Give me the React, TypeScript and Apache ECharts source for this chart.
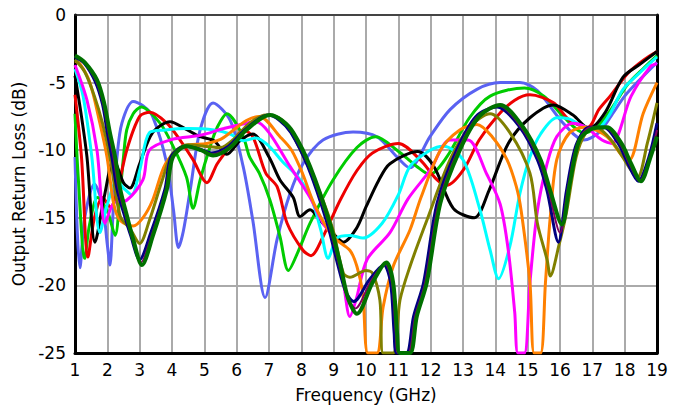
import React, { useEffect, useRef } from "react";
import * as echarts from "echarts";

const xTicks = [1, 19];
const yTicks = [-25, 0];

const blueF = [1.0, 1.07, 1.15, 1.3, 1.6, 1.85, 2.0, 2.08, 2.18, 2.3, 2.45, 2.8, 3.1, 3.4, 3.84, 4.05, 4.2, 4.35, 4.56, 4.87, 5.27, 5.8, 6.2, 6.5, 6.88, 7.25, 7.65, 8.05, 8.67, 9.6, 10.34, 10.96, 11.35, 11.98, 12.6, 13.43, 14.15, 14.76, 15.3, 16.1, 16.74, 17.2, 17.6, 18.0, 18.5, 19.0];
const blueDb = [-10.5, -16, -18.7, -15, -12.5, -14, -17, -18.5, -14.5, -10.5, -8, -6.4, -6.7, -7.5, -11, -14.5, -17.2, -16, -13, -8.5, -6.5, -7.8, -11.2, -15.2, -20.9, -16.6, -13.2, -11, -9.25, -8.65, -9.0, -10.5, -11.3, -9.0, -7.0, -5.5, -5.0, -5.0, -5.6, -8.0, -9.25, -8.7, -7.4, -6.0, -4.7, -3.5];

const greenF = [1.0, 1.1, 1.3, 1.45, 1.7, 2.0, 2.24, 2.4, 2.5, 2.6, 2.8, 3.05, 3.63, 4.03, 4.45, 4.65, 4.87, 5.17, 5.4, 5.7, 6.2, 6.4, 6.7, 7.03, 7.34, 7.6, 7.9, 8.27, 8.98, 9.72, 10.3, 10.96, 11.57, 11.97, 12.5, 13.2, 13.84, 14.9, 15.5, 16.1, 16.74, 17.1, 17.6, 18.1, 18.6, 19.0];
const greenDb = [-7.3, -12, -18, -15.5, -13.5, -14.5, -16.3, -13, -10.5, -8.5, -7.3, -6.8, -8.0, -9.7, -12, -14.3, -12.2, -9.8, -8.3, -7.3, -9.0, -10.5, -11.7, -13.7, -16.4, -18.9, -17.5, -15.4, -12.2, -9.8, -9.0, -10, -11.2, -11.8, -10.5, -7.6, -6.0, -5.4, -6.0, -7.5, -8.7, -8.4, -6.9, -5.1, -3.9, -3.0];

const redF = [1.0, 1.2, 1.4, 1.6, 1.85, 2.1, 2.3, 2.6, 3.0, 3.32, 3.84, 4.25, 4.65, 5.08, 5.4, 5.8, 6.2, 6.5, 6.9, 7.25, 7.56, 8.05, 8.3, 8.67, 9.2, 9.72, 10.2, 11.0, 11.67, 12.2, 12.5, 13.0, 13.5, 14.05, 14.6, 15.07, 15.8, 16.3, 16.86, 17.2, 17.55, 18.1, 18.6, 19.0];
const redDb = [-5.9, -10.5, -17.9, -15, -13.5, -14.2, -13.1, -10, -7.5, -7.2, -8.0, -9.25, -10.7, -12.4, -11, -9.7, -8.5, -9.0, -11.7, -12.7, -15.4, -17.4, -17.8, -16.4, -13.7, -11.5, -10.2, -9.5, -10.7, -12.2, -12.6, -11.5, -9.25, -7.5, -6.3, -5.9, -6.5, -7.8, -8.3, -7.0, -6.0, -4.3, -3.3, -2.7];

const blackF = [1.0, 1.2, 1.37, 1.62, 1.9, 2.2, 2.5, 2.7, 3.0, 3.4, 3.94, 4.4, 4.87, 5.3, 5.7, 6.1, 6.5, 7.0, 7.34, 7.75, 7.96, 8.27, 8.58, 9.0, 9.3, 9.7, 10.0, 10.4, 10.74, 11.6, 12.1, 12.7, 13.35, 13.8, 14.4, 15.07, 15.8, 16.4, 16.9, 17.4, 17.95, 18.5, 19.0];
const blackDb = [-4.5, -7.5, -10.5, -16.8, -13.5, -10.7, -12.4, -12.8, -11, -8.7, -7.9, -8.4, -9.0, -9.3, -10.3, -9.3, -8.8, -10.5, -12.2, -13.5, -14.9, -14.4, -15.2, -16.2, -16.8, -15.8, -14.2, -12.2, -11, -10.1, -11.2, -14.3, -15.0, -13.0, -9.5, -7.6, -6.65, -7.4, -8.4, -7.2, -4.6, -3.6, -2.7];

const cyanF = [1.0, 1.25, 1.52, 1.77, 2.0, 2.3, 2.5, 2.75, 3.0, 3.3, 3.8, 4.5, 5.3, 5.8, 6.2, 6.6, 7.0, 7.4, 7.9, 8.3, 8.6, 8.83, 9.1, 9.5, 9.9, 10.5, 11.0, 11.36, 11.98, 12.4, 13.0, 13.5, 13.84, 14.1, 14.45, 14.76, 15.07, 15.4, 15.9, 16.3, 16.6, 17.1, 17.5, 17.95, 18.5, 19.0];
const cyanDb = [-4.0, -6.0, -10.5, -16.1, -14, -12.3, -12.8, -13.3, -11.5, -8.7, -8.5, -8.4, -8.5, -8.8, -9.3, -9.1, -9.7, -10.8, -12.0, -13.5, -15.9, -18.0, -16.5, -16.3, -16.5, -15.4, -13.3, -11.2, -10.0, -9.7, -10.7, -14.2, -17.4, -19.5, -17.1, -13.2, -10.5, -8.8, -7.6, -7.7, -8.1, -8.5, -7.5, -5.5, -4.2, -3.1];

const magentaF = [1.0, 1.37, 1.68, 1.93, 2.2, 2.6, 3.1, 3.3, 4.0, 4.87, 5.6, 6.3, 6.6, 7.0, 7.65, 8.27, 8.67, 9.0, 9.3, 9.5, 9.7, 10.03, 10.74, 11.3, 11.98, 12.6, 13.15, 13.74, 14.15, 14.4, 14.6, 14.7, 14.9, 15.07, 15.3, 15.6, 15.9, 16.4, 16.8, 17.3, 17.6, 18.2, 18.8, 19.0];
const magentaDb = [-3.7, -6.3, -10, -15.4, -13.9, -13.7, -12.2, -10, -9.2, -8.9, -8.4, -8.0, -7.9, -8.7, -11.2, -13.5, -15.4, -16.5, -19.8, -22.3, -21, -18.1, -16.1, -13.6, -11.5, -9.25, -9.25, -11.8, -14, -17.4, -22, -25, -25, -19.8, -14.5, -11, -9.0, -8.0, -8.3, -9.25, -9.5, -6.0, -3.8, -3.6];

const orangeF = [1.0, 1.15, 1.46, 1.77, 1.99, 2.2, 2.4, 2.8, 3.1, 3.4, 3.8, 4.35, 5.08, 5.5, 5.8, 6.3, 6.7, 7.34, 7.7, 8.05, 8.4, 8.98, 9.5, 9.72, 9.9, 10.06, 10.34, 10.53, 10.84, 11.36, 11.7, 12.3, 12.9, 13.43, 13.9, 14.36, 14.65, 14.8, 15.07, 15.2, 15.4, 15.55, 15.7, 15.9, 16.3, 16.8, 17.45, 17.95, 18.15, 18.57, 19.0];
const orangeDb = [-3.4, -3.6, -5.0, -8.0, -10.5, -14, -15.2, -15.6, -15.0, -13.7, -11, -9.7, -9.5, -9.2, -8.7, -7.8, -7.5, -9.0, -10, -11.8, -14, -16.4, -17.4, -18.6, -20.6, -25, -25, -21.6, -18.6, -15.9, -13.5, -10, -8.5, -8.1, -9.0, -10.7, -12.7, -14.5, -19.8, -25, -25, -19.8, -14.9, -10.7, -8.7, -8.3, -9.0, -10.5, -10.7, -7.3, -5.0];

const oliveF = [1.0, 1.3, 1.6, 1.85, 2.08, 2.4, 2.7, 3.0, 3.3, 3.7, 4.0, 4.5, 5.0, 5.5, 5.9, 6.4, 6.9, 7.3, 7.65, 8.27, 8.67, 8.98, 9.3, 9.5, 10.0, 10.2, 10.43, 10.53, 10.84, 11.05, 11.36, 11.88, 12.6, 13.2, 13.84, 14.45, 15.07, 15.3, 15.6, 15.7, 15.97, 16.2, 16.5, 16.8, 17.1, 17.6, 18.2, 18.4, 18.7, 19.0];
const oliveDb = [-3.3, -4.2, -6, -8, -10.5, -14.9, -15.8, -16.9, -15.2, -12.2, -10.3, -9.6, -9.7, -9.8, -9.2, -8.0, -7.4, -7.6, -8.5, -11.5, -13.7, -15.9, -19.1, -19.4, -18.9, -19.1, -21.1, -25, -25, -21.1, -18.6, -15.2, -10.7, -8.3, -7.3, -8.7, -11.7, -15.4, -18.1, -19.3, -17, -14.6, -10.5, -8.7, -8.3, -9.3, -11.5, -12, -9.5, -6.5];

const navyF = [1.0, 1.3, 1.62, 1.85, 2.0, 2.14, 2.3, 2.5, 2.72, 3.0, 3.33, 3.78, 3.97, 4.4, 4.85, 5.22, 5.75, 6.25, 6.97, 7.33, 7.68, 8.2, 8.8, 9.12, 9.38, 9.62, 10.1, 10.55, 10.76, 10.87, 10.95, 11.25, 11.47, 11.78, 12.2, 12.8, 13.4, 14.05, 14.76, 15.3, 15.6, 15.95, 16.2, 16.5, 16.9, 17.35, 17.8, 18.1, 18.42, 18.75, 19.0];
const navyDb = [-3.1, -3.6, -4.9, -6.6, -8.7, -10.5, -12.9, -14.6, -16.3, -18.1, -16.2, -12.9, -10.5, -9.7, -9.9, -10.2, -9.7, -8.5, -7.4, -7.8, -8.7, -11.2, -15.4, -18.4, -20.5, -21.2, -19.6, -18.5, -19.8, -23.5, -25, -25, -22.3, -19.8, -13.9, -10, -7.5, -6.8, -8.3, -10.7, -13, -16.8, -13, -9.6, -8.3, -8.3, -9.5, -11, -12.3, -10.5, -8.0];

const purpleF = [1.0, 1.3, 1.65, 1.87, 2.04, 2.19, 2.35, 2.55, 2.76, 3.04, 3.37, 3.81, 4.0, 4.42, 4.88, 5.25, 5.78, 6.28, 7.0, 7.37, 7.72, 8.24, 8.84, 9.16, 9.42, 9.67, 10.15, 10.59, 10.8, 10.92, 11.0, 11.3, 11.52, 11.83, 12.25, 12.85, 13.45, 14.1, 14.8, 15.35, 15.65, 16.0, 16.25, 16.55, 16.95, 17.4, 17.85, 18.15, 18.46, 18.78, 19.0];
const purpleDb = [-3.05, -3.55, -4.85, -6.55, -8.7, -10.5, -12.9, -14.7, -16.45, -18.3, -16.3, -12.9, -10.5, -9.7, -9.95, -10.3, -9.75, -8.5, -7.4, -7.8, -8.7, -11.2, -15.4, -18.4, -20.8, -21.7, -19.7, -18.4, -19.8, -23.5, -25, -25, -22.3, -19.8, -13.9, -10, -7.5, -6.7, -8.3, -10.7, -13, -16.1, -12.7, -9.4, -8.3, -8.3, -9.5, -11, -12.3, -10.5, -8.5];

const dkgreenF = [1.0, 1.3, 1.68, 1.9, 2.08, 2.24, 2.4, 2.6, 2.8, 3.07, 3.4, 3.84, 4.03, 4.45, 4.9, 5.27, 5.8, 6.3, 7.03, 7.4, 7.75, 8.27, 8.88, 9.2, 9.45, 9.72, 10.2, 10.63, 10.84, 10.96, 11.05, 11.36, 11.57, 11.88, 12.3, 12.9, 13.5, 14.15, 14.86, 15.4, 15.7, 16.06, 16.3, 16.6, 17.0, 17.45, 17.9, 18.2, 18.5, 18.8, 19.0];
const dkgreenDb = [-3.0, -3.5, -4.8, -6.5, -8.7, -10.5, -12.9, -14.8, -16.6, -18.5, -16.4, -12.9, -10.5, -9.7, -10.0, -10.4, -9.8, -8.5, -7.4, -7.8, -8.7, -11.2, -15.4, -18.4, -21.0, -22.1, -19.8, -18.3, -19.8, -23.5, -25, -25, -22.3, -19.8, -13.9, -10, -7.5, -6.65, -8.3, -10.7, -13, -15.5, -12.5, -9.25, -8.4, -8.3, -9.5, -11, -12.3, -10.5, -9.0];

const curves = [
  { name: "c1", f: blueF, v: blueDb, color: "#5A62F2", w: 3 },
  { name: "c2", f: greenF, v: greenDb, color: "#00CC00", w: 3 },
  { name: "c3", f: redF, v: redDb, color: "#EE0000", w: 3 },
  { name: "c4", f: blackF, v: blackDb, color: "#000000", w: 3 },
  { name: "c5", f: cyanF, v: cyanDb, color: "#00FFFF", w: 3 },
  { name: "c6", f: magentaF, v: magentaDb, color: "#FF00FF", w: 3 },
  { name: "c7", f: orangeF, v: orangeDb, color: "#FF8000", w: 3 },
  { name: "c8", f: oliveF, v: oliveDb, color: "#808000", w: 3 },
  { name: "c9", f: navyF, v: navyDb, color: "#000080", w: 3 },
  { name: "c10", f: purpleF, v: purpleDb, color: "#800060", w: 2 },
  { name: "c11", f: dkgreenF, v: dkgreenDb, color: "#007000", w: 4 },
];

export default function App() {
  const ref = useRef<HTMLDivElement>(null);
  useEffect(() => {
    if (!ref.current) return;
    const chart = echarts.init(ref.current, null, { renderer: "svg" });
    const font = "DejaVu Sans, Verdana, sans-serif";
    chart.setOption({
      animation: false,
      backgroundColor: "#ffffff",
      grid: { left: 75, right: 20, top: 15, bottom: 57 },
      xAxis: [
        {
          type: "value",
          min: xTicks[0],
          max: xTicks[1],
          interval: 1,
          name: "Frequency (GHz)",
          nameLocation: "middle",
          nameGap: 33,
          nameTextStyle: { fontSize: 17, color: "#000", fontFamily: font },
          axisLine: { show: true, onZero: false, lineStyle: { color: "#000", width: 3 } },
          axisTick: { show: false },
          axisLabel: { fontSize: 17, color: "#000", fontFamily: font, margin: 8 },
          splitLine: { show: true, lineStyle: { color: "#AAAAAA", width: 2 } },
        },
        {
          type: "value",
          position: "top",
          min: xTicks[0],
          max: xTicks[1],
          interval: 1,
          axisLine: { show: true, onZero: false, lineStyle: { color: "#222", width: 1.5 } },
          axisTick: { show: false },
          axisLabel: { show: false },
          splitLine: { show: false },
        },
      ],
      yAxis: [
        {
          type: "value",
          min: yTicks[0],
          max: yTicks[1],
          interval: 5,
          name: "Output Return Loss (dB)",
          nameLocation: "middle",
          nameGap: 42,
          nameTextStyle: { fontSize: 17, color: "#000", fontFamily: font },
          axisLine: { show: true, onZero: false, lineStyle: { color: "#000", width: 3 } },
          axisTick: { show: false },
          axisLabel: { fontSize: 17, color: "#000", fontFamily: font, margin: 9 },
          splitLine: { show: true, lineStyle: { color: "#AAAAAA", width: 2 } },
        },
        {
          type: "value",
          position: "right",
          min: yTicks[0],
          max: yTicks[1],
          interval: 5,
          axisLine: { show: true, onZero: false, lineStyle: { color: "#000", width: 3 } },
          axisTick: { show: false },
          axisLabel: { show: false },
          splitLine: { show: false },
        },
      ],
      series: curves.map((c, i) => ({
        name: c.name,
        type: "line",
        xAxisIndex: 0,
        yAxisIndex: 0,
        showSymbol: false,
        smooth: 0.3,
        clip: true,
        z: 2 + i,
        lineStyle: { color: c.color, width: c.w },
        data: c.f.map((x, j) => [x, c.v[j]]),
      })),
    });
    return () => chart.dispose();
  }, []);
  return (
    <div
      ref={ref}
      style={{ position: "fixed", left: 0, top: 0, width: 677, height: 410, background: "#fff" }}
    />
  );
}
